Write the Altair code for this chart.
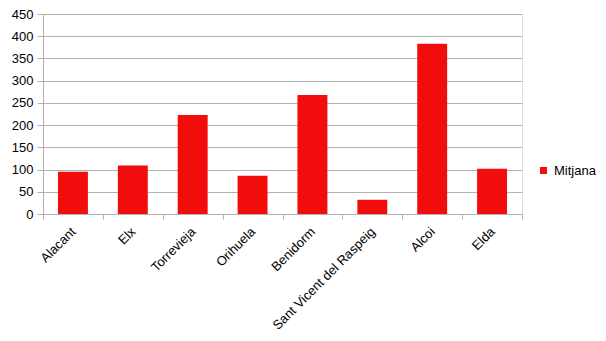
import altair as alt
import pandas as pd

cities = ["Alacant", "Elx", "Torrevieja", "Orihuela", "Benidorm",
          "Sant Vicent del Raspeig", "Alcoi", "Elda"]
mitjana = [95, 109, 223, 86, 268, 32, 383, 102]
series = ["Mitjana"] * len(cities)

df = pd.DataFrame({"city": cities, "value": mitjana, "serie": series})

FONT = "Liberation Sans"
GRAY = "#b3b3b3"

chart = alt.Chart(df).mark_bar(width=alt.RelativeBandSize(0.5)).encode(
    x=alt.X("city:N", sort=cities, title=None,
            scale=alt.Scale(paddingInner=0, paddingOuter=0),
            axis=alt.Axis(labelAngle=-45, labelAlign="right", labelBaseline="top",
                          labelOffset=-4,
                          tickBand="extent", tickSize=5,
                          tickColor=GRAY, domainColor=GRAY, labelFontSize=13,
                          labelFont=FONT, labelColor="#000000", labelPadding=6,
                          grid=False)),
    y=alt.Y("value:Q", title=None,
            scale=alt.Scale(domain=[0, 450], nice=False),
            axis=alt.Axis(values=list(range(0, 451, 50)), tickSize=6,
                          tickColor=GRAY, domainColor=GRAY, gridColor=GRAY,
                          labelFontSize=13, labelFont=FONT, labelColor="#000000",
                          labelPadding=4)),
    color=alt.Color("serie:N", scale=alt.Scale(range=["#f10d0c"]),
                    legend=alt.Legend(title=None, orient="none", legendX=494,
                                      legendY=150, symbolType="square",
                                      symbolSize=49, symbolStrokeWidth=0,
                                      labelFontSize=13, labelFont=FONT,
                                      labelColor="#000000", labelOffset=4,
                                      padding=0)),
).properties(
    width=479, height=200,
    autosize=alt.AutoSizeParams(type="none"),
    padding={"left": 43, "top": 14, "right": 84, "bottom": 127},
).configure_view(stroke=GRAY, strokeWidth=1).configure(background="white")

chart.save("out.html", embed_options={"renderer": "svg", "actions": False})
